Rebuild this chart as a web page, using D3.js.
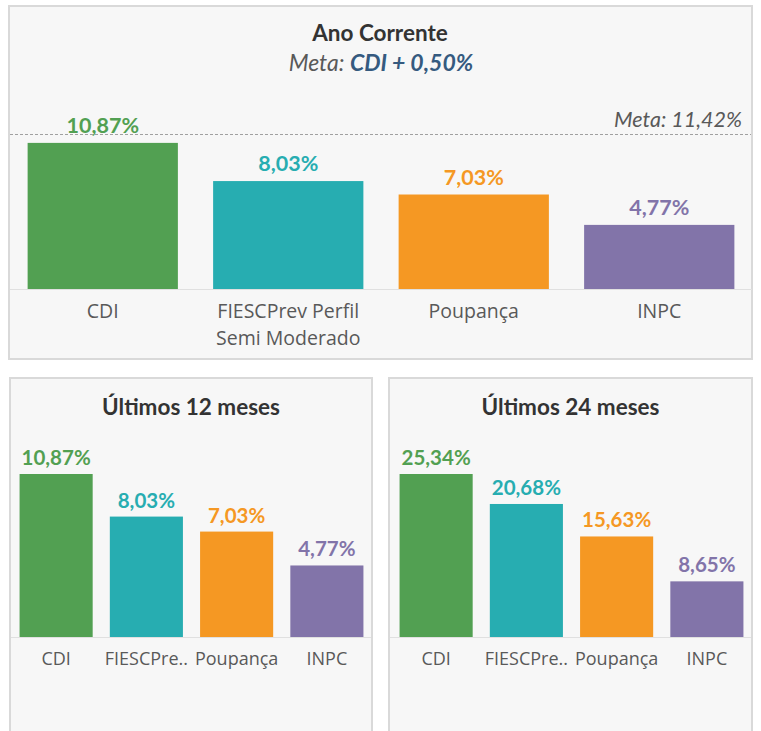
<!DOCTYPE html>
<html>
<head>
<meta charset="utf-8">
<script src="https://cdn.jsdelivr.net/npm/d3@7"></script>
<style>
  html, body { margin: 0; padding: 0; background: #ffffff; }
  svg { display: block; }
</style>
</head>
<body>
<svg id="chart" width="761" height="731"></svg>
<script>
// ---------- data ----------
const categories = ["CDI", "FIESCPrev Perfil Semi Moderado", "Poupança", "INPC"];
const categoryLines = [["CDI"], ["FIESCPrev Perfil", "Semi Moderado"], ["Poupança"], ["INPC"]];
const anoCorrente = [10.87, 8.03, 7.03, 4.77];
const ultimos12 = [10.87, 8.03, 7.03, 4.77];
const ultimos24 = [25.34, 20.68, 15.63, 8.65];
const metaValue = 11.42;
const metaLabel = "Meta: 11,42%";
const titles = ["Ano Corrente", "Últimos 12 meses", "Últimos 24 meses"];
const subtitlePrefix = "Meta: ";
const subtitleTarget = "CDI + 0,50%";
const colors = ["#52a052", "#27adb1", "#f59823", "#8274a9"];

// ---------- helpers ----------
const svg = d3.select("#chart");
const fmt = v => v.toFixed(2).replace(".", ",") + "%";
const boldFont = "Lato, 'Open Sans', sans-serif";
const labelFont = "'Open Sans', 'Noto Sans', sans-serif";

function panel(x, y, w, h) {
  svg.append("rect").attr("x", x).attr("y", y).attr("width", w).attr("height", h)
    .attr("fill", "#f7f7f7").attr("stroke", "#d9d9d9").attr("stroke-width", 2);
}

function truncate(textSel, maxW) {
  textSel.each(function () {
    const t = d3.select(this);
    let s = t.text();
    if (this.getComputedTextLength() <= maxW) return;
    while (s.length > 1) {
      s = s.slice(0, -1);
      t.text(s + "..");
      if (this.getComputedTextLength() <= maxW) break;
    }
  });
}

function barChart(g, values, opts) {
  const x = d3.scaleBand().domain(categories).range(opts.xRange)
    .paddingInner(0.19).paddingOuter(0.095);
  const y = d3.scaleLinear().domain([0, opts.yMax]).range([opts.base, opts.top]);

  g.append("line").attr("x1", opts.lineX[0]).attr("x2", opts.lineX[1])
    .attr("y1", opts.base + 0.5).attr("y2", opts.base + 0.5)
    .attr("stroke", "#e0e0e0").attr("stroke-width", 1);

  g.selectAll("rect.bar").data(values).join("rect").attr("class", "bar")
    .attr("x", (d, i) => x(categories[i]))
    .attr("width", x.bandwidth())
    .attr("y", d => y(d))
    .attr("height", d => y(0) - y(d))
    .attr("fill", (d, i) => colors[i]);

  g.selectAll("text.val").data(values).join("text").attr("class", "val")
    .attr("x", (d, i) => x(categories[i]) + x.bandwidth() / 2)
    .attr("y", d => y(d) - opts.valGap)
    .attr("text-anchor", "middle")
    .attr("font-family", boldFont).attr("font-weight", 700)
    .attr("font-size", opts.valSize)
    .attr("fill", (d, i) => colors[i])
    .text(d => fmt(d));

  return x;
}

// ---------- top panel ----------
panel(9, 6, 743, 353);
svg.append("text").attr("x", 380).attr("y", 41).attr("text-anchor", "middle")
  .attr("font-family", boldFont).attr("font-weight", 700).attr("font-size", 22.5)
  .attr("fill", "#333333").text(titles[0]);
const sub = svg.append("text").attr("x", 381).attr("y", 71).attr("text-anchor", "middle")
  .attr("font-family", boldFont).attr("font-style", "italic").attr("font-size", 23);
sub.append("tspan").attr("fill", "#595959").text(subtitlePrefix);
sub.append("tspan").attr("fill", "#355a7f").attr("font-weight", 700).text(subtitleTarget);

const gTop = svg.append("g");
const topOpts = { xRange: [10, 752], base: 289, top: 135.5, yMax: metaValue, lineX: [10, 752], valGap: 10, valSize: 21.5 };
const xTop = barChart(gTop, anoCorrente, topOpts);
const yTop = d3.scaleLinear().domain([0, metaValue]).range([topOpts.base, topOpts.top]);
gTop.append("line").attr("x1", 10).attr("x2", 751)
  .attr("y1", yTop(metaValue) - 1).attr("y2", yTop(metaValue) - 1)
  .attr("stroke", "#a0a0a0").attr("stroke-width", 1).attr("stroke-dasharray", "3,2");
gTop.append("text").attr("x", 742).attr("y", yTop(metaValue) - 9).attr("text-anchor", "end")
  .attr("font-family", boldFont).attr("font-style", "italic").attr("font-size", 21.5)
  .attr("fill", "#595959").text(metaLabel);
categoryLines.forEach((lines, i) => {
  const t = gTop.append("text").attr("text-anchor", "middle")
    .attr("font-family", labelFont).attr("font-size", 19.5).attr("fill", "#595959");
  lines.forEach((ln, j) => {
    t.append("tspan").attr("x", xTop(categories[i]) + xTop.bandwidth() / 2)
      .attr("y", 318 + j * 27).text(ln);
  });
});

// ---------- bottom panels ----------
const bottom = [
  { values: ultimos12, title: titles[1], px: 10, pw: 362, xRange: [11, 372] },
  { values: ultimos24, title: titles[2], px: 389, pw: 363, xRange: [391, 752] }
];
bottom.forEach(b => {
  panel(b.px, 378, b.pw, 370);
  svg.append("text").attr("x", b.px + b.pw / 2).attr("y", 415).attr("text-anchor", "middle")
    .attr("font-family", boldFont).attr("font-weight", 700).attr("font-size", 22.5)
    .attr("fill", "#333333").text(b.title);
  const g = svg.append("g");
  const x = barChart(g, b.values, {
    xRange: b.xRange, base: 637, top: 474, yMax: d3.max(b.values),
    lineX: [b.px + 1, b.px + b.pw - 1], valGap: 9, valSize: 20.5
  });
  const labs = g.selectAll("text.cat").data(categories).join("text").attr("class", "cat")
    .attr("x", d => x(d) + x.bandwidth() / 2).attr("y", 665)
    .attr("text-anchor", "middle")
    .attr("font-family", labelFont).attr("font-size", 18).attr("fill", "#595959")
    .text(d => d);
  truncate(labs, x.step() - 4);
});
</script>
</body>
</html>
